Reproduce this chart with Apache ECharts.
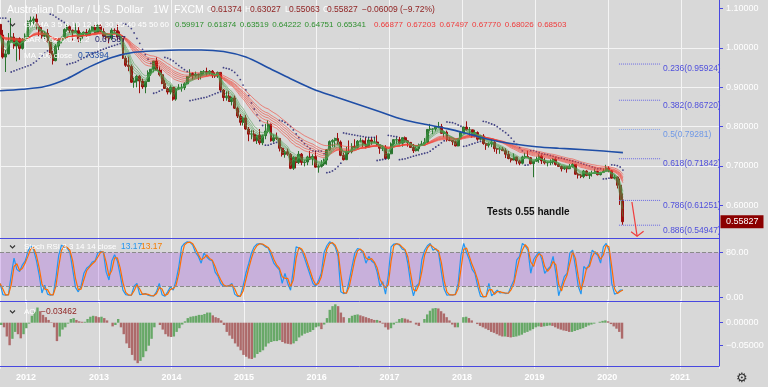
<!DOCTYPE html>
<html><head><meta charset="utf-8">
<script src="https://cdn.jsdelivr.net/npm/echarts@6/dist/echarts.min.js"></script>
<style>html,body{margin:0;padding:0;background:#d8d8d8;}#c{width:768px;height:387px;}</style>
</head><body><div id="c"></div>
<script>
// ---------- DATA (bi-weekly bars) ----------
const startDate = Date.UTC(2011, 7, 29);
const barDays = 14;
const barWeeks = 2;
const firstOpen = 1.0600;
const closes = [1.0330,0.9770,0.9850,1.0170,1.0280,1.0050,1.0240,0.9990,1.0220,1.0280,
1.0670,1.0700,1.0740,1.0570,1.0430,1.0300,1.0370,1.0170,0.9840,0.9680,
1.0050,1.0230,1.0250,1.0470,1.0540,1.0450,1.0400,1.0440,1.0230,1.0370,
1.0400,1.0330,1.0440,1.0530,1.0390,1.0570,1.0420,1.0300,1.0260,1.0250,
1.0450,1.0440,1.0280,1.0240,0.9740,0.9560,0.9530,0.9130,0.9160,0.9280,
0.9160,0.9010,0.9150,0.9370,0.9460,0.9670,0.9440,0.9320,0.9100,0.8970,
0.8880,0.9000,0.8700,0.8960,0.8990,0.8990,0.9090,0.9270,0.9350,0.9290,
0.9340,0.9310,0.9400,0.9400,0.9360,0.9410,0.9300,0.9290,0.9380,0.8930,
0.8740,0.8770,0.8640,0.8730,0.8470,0.8270,0.8110,0.8220,0.7940,0.7810,
0.7810,0.7640,0.7780,0.7590,0.7770,0.7890,0.8060,0.7640,0.7720,0.7700,
0.7450,0.7290,0.7360,0.7300,0.6940,0.7220,0.7090,0.7300,0.7090,0.7100,
0.7230,0.7180,0.7240,0.6970,0.6990,0.7050,0.7150,0.7410,0.7620,0.7650,
0.7700,0.7610,0.7270,0.7160,0.7370,0.7360,0.7500,0.7470,0.7630,0.7640,
0.7560,0.7480,0.7660,0.7610,0.7610,0.7540,0.7450,0.7460,0.7190,0.7310,
0.7560,0.7670,0.7670,0.7580,0.7720,0.7640,0.7600,0.7470,0.7390,0.7440,
0.7540,0.7560,0.7600,0.7930,0.7940,0.7940,0.7990,0.8000,0.7830,0.7860,
0.7660,0.7650,0.7620,0.7510,0.7700,0.7850,0.7990,0.7920,0.7920,0.7760,
0.7850,0.7680,0.7760,0.7570,0.7530,0.7560,0.7600,0.7440,0.7430,0.7430,
0.7390,0.7300,0.7190,0.7150,0.7230,0.7130,0.7070,0.7230,0.7240,0.7210,
0.7060,0.7120,0.7170,0.7250,0.7130,0.7080,0.7090,0.7100,0.7170,0.7040,
0.6990,0.6930,0.6980,0.6930,0.6980,0.7040,0.6790,0.6770,0.6730,0.6870,
0.6760,0.6810,0.6810,0.6860,0.6780,0.6840,0.6870,0.6950,0.6880,0.6690,
0.6720,0.6510,0.61374,0.55827];
const highs = [1.0760,1.0460,0.9950,1.0380,1.0760,1.0380,1.0250,1.0270,1.0250,1.0370,
1.0700,1.0800,1.0800,1.0860,1.0640,1.0530,1.0430,1.0480,1.0200,0.9930,
1.0100,1.0240,1.0290,1.0500,1.0610,1.0570,1.0470,1.0625,1.0530,1.0400,
1.0420,1.0480,1.0500,1.0550,1.0580,1.0600,1.0600,1.0500,1.0390,1.0300,
1.0500,1.0500,1.0600,1.0420,1.0250,0.9800,0.9780,0.9580,0.9240,0.9310,
0.9310,0.9220,0.9160,0.9430,0.9460,0.9670,0.9760,0.9530,0.9450,0.9190,
0.9000,0.9050,0.9000,0.8990,0.9080,0.9090,0.9130,0.9290,0.9460,0.9380,
0.9400,0.9340,0.9420,0.9440,0.9500,0.9440,0.9440,0.9380,0.9400,0.9380,
0.8960,0.8900,0.8900,0.8760,0.8790,0.8510,0.8320,0.8260,0.8300,0.7990,
0.7910,0.7910,0.7790,0.7940,0.7800,0.8070,0.8160,0.8080,0.7800,0.7850,
0.7700,0.7480,0.7410,0.7440,0.7330,0.7250,0.7230,0.7380,0.7330,0.7160,
0.7260,0.7380,0.7300,0.7380,0.7040,0.7150,0.7190,0.7430,0.7650,0.7680,
0.7720,0.7840,0.7650,0.7340,0.7490,0.7650,0.7580,0.7680,0.7660,0.7720,
0.7670,0.7730,0.7730,0.7730,0.7730,0.7780,0.7540,0.7530,0.7530,0.7330,
0.7600,0.7680,0.7730,0.7740,0.7720,0.7750,0.7650,0.7610,0.7560,0.7500,
0.7570,0.7640,0.7710,0.7940,0.8070,0.7960,0.7990,0.8120,0.8070,0.7900,
0.7900,0.7730,0.7660,0.7650,0.7700,0.7880,0.8000,0.8136,0.7990,0.7920,
0.7920,0.7880,0.7770,0.7810,0.7570,0.7600,0.7680,0.7630,0.7460,0.7480,
0.7480,0.7450,0.7380,0.7210,0.7320,0.7230,0.7160,0.7260,0.7340,0.7390,
0.7230,0.7130,0.7240,0.7300,0.7290,0.7200,0.7110,0.7170,0.7200,0.7200,
0.7070,0.7010,0.6990,0.6990,0.7050,0.7080,0.7040,0.6820,0.6800,0.6900,
0.6890,0.6840,0.6880,0.6930,0.6880,0.6850,0.6940,0.7030,0.6990,0.6900,
0.6770,0.6730,0.6680,0.63027];
const lows = [1.0300,0.9730,0.9390,0.9840,1.0140,0.9980,0.9660,0.9700,0.9960,1.0170,
1.0270,1.0570,1.0610,1.0470,1.0300,1.0240,1.0230,1.0140,0.9750,0.9580,
0.9660,0.9950,1.0120,1.0220,1.0420,1.0380,1.0160,1.0400,1.0150,1.0140,
1.0300,1.0290,1.0330,1.0420,1.0370,1.0370,1.0400,1.0270,1.0210,1.0120,
1.0200,1.0350,1.0200,1.0210,0.9720,0.9520,0.9410,0.9110,0.8990,0.9000,
0.8850,0.8960,0.8850,0.9140,0.9290,0.9380,0.9430,0.9280,0.9080,0.8960,
0.8820,0.8820,0.8660,0.8660,0.8930,0.8890,0.8930,0.9080,0.9240,0.9200,
0.9250,0.9190,0.9200,0.9330,0.9300,0.9320,0.9240,0.9240,0.9240,0.8890,
0.8650,0.8660,0.8640,0.8540,0.8450,0.8220,0.8030,0.8030,0.7920,0.7630,
0.7680,0.7620,0.7560,0.7540,0.7530,0.7680,0.7830,0.7620,0.7600,0.7660,
0.7370,0.7240,0.7210,0.7260,0.6920,0.6900,0.6940,0.7050,0.7020,0.6990,
0.7020,0.7150,0.7020,0.6960,0.6830,0.6960,0.7000,0.7030,0.7380,0.7480,
0.7480,0.7550,0.7250,0.7140,0.7150,0.7300,0.7320,0.7450,0.7440,0.7600,
0.7480,0.7450,0.7480,0.7540,0.7580,0.7520,0.7310,0.7380,0.7190,0.7160,
0.7300,0.7520,0.7560,0.7550,0.7490,0.7590,0.7490,0.7470,0.7330,0.7370,
0.7370,0.7520,0.7540,0.7580,0.7880,0.7810,0.7880,0.7960,0.7820,0.7730,
0.7620,0.7630,0.7530,0.7500,0.7500,0.7680,0.7830,0.7900,0.7760,0.7720,
0.7730,0.7640,0.7650,0.7540,0.7410,0.7470,0.7480,0.7360,0.7310,0.7310,
0.7380,0.7200,0.7170,0.7090,0.7140,0.7040,0.7020,0.7040,0.7180,0.7200,
0.7040,0.6714,0.7110,0.7080,0.7050,0.7040,0.6990,0.7020,0.7040,0.7010,
0.6990,0.6860,0.6900,0.6830,0.6930,0.6960,0.6780,0.6680,0.6690,0.6690,
0.6740,0.6670,0.6730,0.6810,0.6760,0.6760,0.6820,0.6860,0.6840,0.6680,
0.6660,0.6430,0.6010,0.55063];
const stochK = [25,5,4,5,40,70,50,46,58,65,
82,92,85,66,40,8,22,6,4,5,
35,75,93,90,88,80,50,18,10,20,
43,52,56,63,65,79,82,80,45,31,
65,76,65,40,13,5,4,4,20,25,
5,6,7,4,3,3,10,25,5,2,
10,19,13,30,55,90,96,99,98,93,
80,73,61,79,72,67,65,45,38,25,
20,20,21,25,6,2,2,20,43,60,
79,90,95,96,94,90,88,75,61,55,
49,25,43,25,13,50,90,88,84,70,
55,40,25,20,30,43,80,92,99,96,
90,73,10,7,8,30,55,79,87,85,
79,61,73,65,61,45,20,28,6,40,
90,95,96,93,86,84,60,25,3,20,
25,67,84,92,96,84,87,79,45,15,
4,5,4,6,25,75,96,80,67,50,
43,20,2,1,2,25,3,8,13,8,
9,7,8,20,31,67,73,96,92,84,
43,67,75,81,67,43,50,55,73,43,
3,20,37,43,79,84,55,20,6,55,
50,60,84,79,75,61,90,96,84,25,
6,8,13.17,13.17];
const aoValues = [-0.005,-0.010,-0.030,-0.049,-0.035,-0.020,-0.025,-0.034,-0.025,-0.012,
-0.002,0.015,0.024,0.033,0.025,0.017,0.012,0.006,0.001,-0.010,
-0.040,-0.030,-0.015,-0.010,-0.002,0.008,0.010,0.006,0.003,0.002,
0.002,0.008,0.013,0.015,0.014,0.012,0.013,0.010,0.005,0.000,
-0.008,-0.005,0.008,-0.010,-0.025,-0.045,-0.055,-0.070,-0.082,-0.088,
-0.083,-0.075,-0.062,-0.050,-0.035,-0.010,0.000,-0.005,-0.015,-0.025,
-0.030,-0.031,-0.030,-0.020,-0.012,-0.004,0.003,0.010,0.013,0.014,
0.015,0.017,0.017,0.019,0.022,0.022,0.016,0.012,0.010,0.005,
-0.005,-0.020,-0.028,-0.035,-0.045,-0.052,-0.060,-0.070,-0.074,-0.078,
-0.079,-0.076,-0.068,-0.064,-0.060,-0.052,-0.045,-0.042,-0.040,-0.040,
-0.038,-0.042,-0.045,-0.046,-0.047,-0.045,-0.040,-0.032,-0.028,-0.024,
-0.022,-0.020,-0.016,-0.010,-0.008,-0.014,-0.004,0.010,0.028,0.036,
0.040,0.036,0.022,0.012,0.000,0.010,0.015,0.017,0.018,0.016,
0.014,0.012,0.010,0.008,0.006,0.006,0.004,-0.002,-0.010,-0.015,
-0.012,-0.004,0.002,0.008,0.010,0.009,0.007,0.004,0.000,-0.004,
-0.007,0.000,0.008,0.018,0.026,0.031,0.032,0.031,0.025,0.020,
0.012,0.005,-0.004,-0.010,-0.010,0.000,0.012,0.013,0.010,0.005,
0.000,-0.003,-0.007,-0.010,-0.013,-0.016,-0.020,-0.022,-0.025,-0.028,
-0.030,-0.030,-0.031,-0.032,-0.031,-0.030,-0.028,-0.026,-0.022,-0.020,
-0.017,-0.014,-0.010,-0.008,-0.009,-0.008,-0.007,-0.006,-0.007,-0.010,
-0.013,-0.015,-0.017,-0.018,-0.020,-0.020,-0.018,-0.016,-0.014,-0.012,
-0.009,-0.006,-0.004,-0.002,0.000,0.002,0.004,0.005,0.003,-0.003,
-0.008,-0.013,-0.020,-0.03462];
// MA 200 read every 8 bars (last value at the final bar)
const ma200Step = 8;
const ma200 = [0.8915,0.8950,0.9020,0.9220,0.9520,0.9760,0.9890,0.9930,0.9950,0.9950,
0.9910,0.9770,0.9500,0.9220,0.8960,0.8760,0.8570,0.8380,0.8190,0.8060,
0.7950,0.7810,0.7660,0.7560,0.7490,0.7450,0.7420,0.7380,0.73394];
const gmmaShort = [3,5,8,10,12,15];
const gmmaLong = [30,35,40,45,50,60];
const gmmaShortLast = ['0.59917','0.61874','0.63519','0.64222','0.64751','0.65341'];
const gmmaLongLast = ['0.66877','0.67203','0.67497','0.67770','0.68026','0.68503'];
const fibNames = ['0.236','0.382','0.5','0.618','0.786','0.886'];
const fibLevels = [0.95924,0.86720,0.79281,0.71842,0.61251,0.54947];
const fibFrom = '2020-02-25', fibTo = '2020-09-23';
const arrowFrom = ['2020-04-30', 0.6085];
const arrowTo = ['2020-05-26', 0.5215];
const priceTicks = [0.6,0.7,0.8,0.9,1.0,1.1];
const stochTicks = [0,80];
const aoTicks = [0,-0.05];
const lastPrice = 0.55827;

// ---------- helpers ----------
const DAY = 86400000;
const dates = closes.map((_, i) => startDate + i * barDays * DAY);
const opens = closes.map((c, i) => i === 0 ? firstOpen : closes[i - 1]);
function ema(vals, n) { const a = 2 / (n + 1); let e = vals[0]; return vals.map((v, i) => i === 0 ? e : (e = a * v + (1 - a) * e)); }
function psar(h, l, step, mx) {
  const out = []; let up = false, af = step, ep = l[0], sar = h[0]; out.push(sar);
  for (let i = 1; i < h.length; i++) {
    sar = sar + af * (ep - sar);
    if (up) {
      sar = Math.min(sar, l[i - 1], l[Math.max(0, i - 2)]);
      if (l[i] < sar) { up = false; sar = ep; ep = l[i]; af = step; }
      else if (h[i] > ep) { ep = h[i]; af = Math.min(af + step, mx); }
    } else {
      sar = Math.max(sar, h[i - 1], h[Math.max(0, i - 2)]);
      if (h[i] > sar) { up = true; sar = ep; ep = h[i]; af = step; }
      else if (l[i] < ep) { ep = l[i]; af = Math.min(af + step, mx); }
    }
    out.push(sar);
  }
  return out;
}
const sarVals = psar(highs, lows, 0.02, 0.2);
const stochD = stochK.map((v, i) => i === 0 ? v : (v + stochK[i - 1]) / 2);

const BLUE = '#4848e0';
const GRIDC = '#f4f4f4';
const FONT = '"Liberation Sans", Arial, sans-serif';
const xMin = Date.UTC(2011, 7, 28, 17), xMax = Date.UTC(2021, 6, 10, 12);

function xAxisCfg(gi, show) {
  return {
    type: 'time', gridIndex: gi, min: xMin, max: xMax,
    minInterval: 365 * DAY, maxInterval: 366 * DAY,
    axisLine: { show: false }, axisTick: { show: false },
    axisLabel: { show: show, color: '#ffffff', fontSize: 9, fontWeight: 'bold', fontFamily: FONT, margin: 4,
      showMinLabel: false, showMaxLabel: false,
      formatter: v => String(new Date(v).getUTCFullYear()) },
    splitLine: { show: true, lineStyle: { color: GRIDC, width: 1 } }
  };
}
const yLabel = { color: '#ffffff', fontSize: 9, fontFamily: FONT, margin: 7 };
const series = [];
series.push({
  type: 'candlestick', xAxisIndex: 0, yAxisIndex: 0, barWidth: 2.4,
  dimensions: ['date', 'open', 'close', 'lowest', 'highest'],
  encode: { x: 'date', y: ['open', 'close', 'lowest', 'highest'] },
  data: closes.map((c, i) => [dates[i], opens[i], c, lows[i], highs[i]]),
  itemStyle: { color: '#2a752e', color0: '#9c0e0e', borderColor: '#2a752e', borderColor0: '#9c0e0e', borderWidth: 1 },
  silent: true
});
gmmaLong.forEach(p => {
  const e = ema(closes, p / barWeeks);
  series.push({ type: 'line', xAxisIndex: 0, yAxisIndex: 0, showSymbol: false, silent: true,
    data: dates.map((d, i) => [d, e[i]]), lineStyle: { width: 1, color: 'rgba(244,67,54,0.6)' } });
});
gmmaShort.forEach(p => {
  const e = ema(closes, p / barWeeks);
  series.push({ type: 'line', xAxisIndex: 0, yAxisIndex: 0, showSymbol: false, silent: true,
    data: dates.map((d, i) => [d, e[i]]), lineStyle: { width: 1, color: 'rgba(76,160,80,0.55)' } });
});
series.push({ type: 'scatter', xAxisIndex: 0, yAxisIndex: 0, symbolSize: 1.8, silent: true,
  data: dates.map((d, i) => [d, sarVals[i]]), itemStyle: { color: '#1c1c6e' } });
series.push({ type: 'line', xAxisIndex: 0, yAxisIndex: 0, showSymbol: false, silent: true, smooth: 0.3,
  data: ma200.map((v, k) => [dates[Math.min(k * ma200Step, dates.length - 1)], v]),
  lineStyle: { width: 1.6, color: '#1f4ea6' } });
fibLevels.forEach((lv, k) => {
  const col = fibNames[k] === '0.5' ? '#6f98e6' : '#5050dc';
  series.push({ type: 'line', xAxisIndex: 0, yAxisIndex: 0, symbol: 'none', silent: true,
    data: [[fibFrom, lv], [fibTo, lv]],
    lineStyle: { width: 1, type: 'dotted', color: fibNames[k] === '0.5' ? '#8fa8ec' : '#6a6ae4' },
    endLabel: { show: true, formatter: fibNames[k] + '(' + lv.toFixed(5) + ')', color: col, fontSize: 8.5, fontFamily: FONT, distance: 2, offset: [0, 5] } });
});
series.push({ type: 'line', xAxisIndex: 0, yAxisIndex: 0, symbol: 'none', silent: true,
  data: [arrowFrom, arrowTo], lineStyle: { width: 1.2, color: '#f03c3c' } });
// Stoch RSI
series.push({ type: 'line', xAxisIndex: 1, yAxisIndex: 1, showSymbol: false, silent: true,
  data: dates.map((d, i) => [d, stochK[i]]), lineStyle: { width: 1.2, color: '#2196f3' },
  markArea: { silent: true, itemStyle: { color: 'rgba(160,70,230,0.27)' }, data: [[{ yAxis: 20 }, { yAxis: 80 }]] },
  markLine: { silent: true, symbol: 'none', label: { show: false },
    lineStyle: { type: 'dashed', color: '#8a8a8a', width: 1 }, data: [{ yAxis: 20 }, { yAxis: 80 }] } });
series.push({ type: 'line', xAxisIndex: 1, yAxisIndex: 1, showSymbol: false, silent: true,
  data: dates.map((d, i) => [d, stochD[i]]), lineStyle: { width: 1.2, color: '#ff6d00' } });
// AO
series.push({ type: 'bar', xAxisIndex: 2, yAxisIndex: 2, barWidth: 2.4, silent: true,
  data: dates.map((d, i) => [d, aoValues[i]]),
  itemStyle: { color: p => (p.dataIndex === 0 || aoValues[p.dataIndex] >= aoValues[p.dataIndex - 1]) ? '#67a867' : '#ad6a6a' } });

const option = {
  animation: false, useUTC: true, backgroundColor: '#d8d8d8',
  grid: [
    { left: 0, right: 49, top: 0, height: 244.65 },
    { left: 0, right: 49, top: 235.6, height: 67.5 },
    { left: 0, right: 49, top: 299.7, height: 69 }
  ],
  xAxis: [xAxisCfg(0, false), xAxisCfg(1, false), xAxisCfg(2, true)],
  yAxis: [
    { type: 'value', gridIndex: 0, position: 'right', min: 0.5, max: 1.12205, interval: 0.1,
      axisLine: { show: false },
      axisTick: { show: true, length: 4, lineStyle: { color: BLUE }, customValues: priceTicks },
      axisLabel: Object.assign({ customValues: priceTicks, formatter: v => v.toFixed(5) }, yLabel),
      splitLine: { show: true, showMinLine: false, showMaxLine: false, lineStyle: { color: GRIDC } } },
    { type: 'value', gridIndex: 1, position: 'right', min: -10, max: 110,
      axisLine: { show: false },
      axisTick: { show: true, length: 4, lineStyle: { color: BLUE }, customValues: stochTicks },
      axisLabel: Object.assign({ customValues: stochTicks, formatter: v => v.toFixed(2) }, yLabel),
      splitLine: { show: false } },
    { type: 'value', gridIndex: 2, position: 'right', min: -0.1, max: 0.05, interval: 0.05,
      axisLine: { show: false },
      axisTick: { show: true, length: 4, lineStyle: { color: BLUE }, customValues: aoTicks },
      axisLabel: Object.assign({ customValues: aoTicks, formatter: v => (v < 0 ? '\u2212' : '') + Math.abs(v).toFixed(5) }, yLabel),
      splitLine: { show: true, showMinLine: false, showMaxLine: false, lineStyle: { color: GRIDC } } }
  ],
  series: series
};
const chart = echarts.init(document.getElementById('c'), null, { renderer: 'canvas' });
chart.setOption(option);

// ---------- overlay texts / annotations ----------
function T(x, y, text, fill, size, weight) {
  return { type: 'text', x: x, y: y, z: 100, silent: true,
    style: { text: text, fill: fill, fontSize: size, fontWeight: weight || 'normal', fontFamily: FONT, verticalAlign: 'middle' } };
}
function L(x1, y1, x2, y2, c, w) {
  return { type: 'line', z: 90, silent: true, shape: { x1: x1, y1: y1, x2: x2, y2: y2 }, style: { stroke: c, lineWidth: w || 1 } };
}
function chevron(x, y) {
  return { type: 'polyline', z: 100, silent: true, shape: { points: [[x, y - 1.5], [x + 2.5, y + 1], [x + 5, y - 1.5]] }, style: { stroke: '#333', lineWidth: 1.1, fill: null } };
}
const W = '#ffffff', DR = '#8e1e1e', GR = '#2e8f2e', RD = '#f03a3a';
const tip = chart.convertToPixel({ xAxisIndex: 0, yAxisIndex: 0 }, [+new Date(arrowTo[0]), arrowTo[1]]);
const yLast = chart.convertToPixel({ yAxisIndex: 0 }, lastPrice);
const g = [
  L(0, 238.5, 719, 238.5, BLUE), L(0, 301.5, 719, 301.5, BLUE), L(0, 366.5, 719, 366.5, BLUE),
  L(719.5, 0, 719.5, 366.5, BLUE),
  T(7, 10, 'Australian Dollar / U.S. Dollar', W, 10.5),
  T(153, 10, '1W', W, 10.5), T(174, 10, 'FXCM', W, 10.5),
  T(207, 10, 'O', W, 8.5), T(211, 10, '0.61374', DR, 8.5),
  T(245, 10, 'H', W, 8.5), T(250, 10, '0.63027', DR, 8.5),
  T(285, 10, 'L', W, 8.5), T(289, 10, '0.55063', DR, 8.5),
  T(323, 10, 'C', W, 8.5), T(327, 10, '0.55827', DR, 8.5),
  T(362, 10, '\u22120.06009 (\u22129.72%)', DR, 8.5),
  chevron(10, 25),
  T(24, 25, 'GMMA 3 5 8 10 12 15 30 35 40 45 50 60', W, 8),
  T(24, 40, 'SAR 0.02 0.02 0.2', W, 8), T(95, 40, '0.67587', '#27276e', 8.5),
  T(24, 56, 'MA 200 close', W, 8), T(78, 56, '0.73394', '#1f4ea6', 8.5),
  chevron(10, 247),
  T(24, 247, 'Stoch RSI 3 3 14 14 close', W, 8), T(121, 247, '13.17', '#2196f3', 8.5), T(141, 247, '13.17', '#f57c00', 8.5),
  chevron(10, 312),
  T(24, 312, 'AO', W, 8), T(41, 312, '\u22120.03462', DR, 8.5),
  T(487, 212, 'Tests 0.55 handle', '#111111', 10, 'bold'),
  { type: 'polyline', z: 95, silent: true, shape: { points: [[tip[0] - 6, tip[1] - 4.5], tip, [tip[0] + 6.5, tip[1] - 5]] }, style: { stroke: '#f03c3c', lineWidth: 1.2, fill: null } },
  { type: 'rect', z: 100, silent: true, shape: { x: 720.5, y: yLast - 6.5, width: 43, height: 13 }, style: { fill: '#8b0000' } },
  T(726, yLast, '0.55827', W, 9),
  T(736, 378, '\u2699', '#333333', 13)
];
gmmaShortLast.forEach((s, k) => g.push(T(175 + k * 32.4, 25, s, GR, 8)));
gmmaLongLast.forEach((s, k) => g.push(T(374 + k * 32.7, 25, s, RD, 8)));
chart.setOption({ graphic: g });
</script></body></html>
